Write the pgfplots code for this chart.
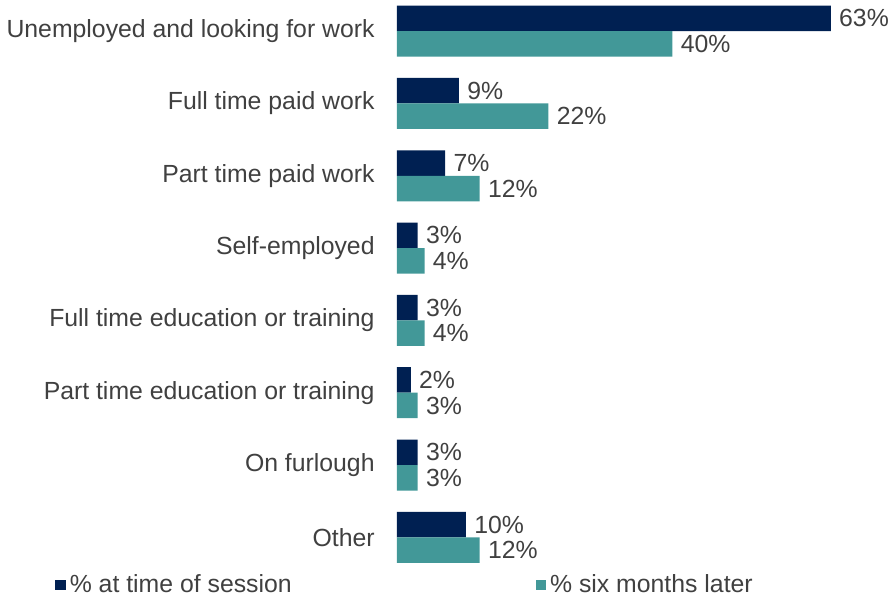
\documentclass[border=0pt]{standalone}
\usepackage{fontspec}
\setmainfont{Liberation Sans}
\usepackage{pgfplots}
\pgfplotsset{compat=1.18}
\definecolor{navy}{HTML}{002052}
\definecolor{teal}{HTML}{429898}
\definecolor{txt}{HTML}{404040}
\begin{document}
\begin{tikzpicture}
\path[use as bounding box] (-198.5pt,-17pt) rectangle (248pt,283.5pt);
\begin{axis}[
    scale only axis,
    width=241pt, height=283.5pt,
    xbar, bar width=12.75pt,
    xmin=0, xmax=70,
    ymin=-0.43, ymax=7.41,
    y dir=reverse,
    axis lines=left,
    axis line style={draw=none},
    xtick=\empty,
    ytick={0,...,7},
    yticklabels={Unemployed and looking for work, Full time paid work, Part time paid work, Self-employed, Full time education or training, Part time education or training, On furlough, Other},
    major tick length=0pt,
    y tick label style={font=\fontsize{12.4}{14}\selectfont, text=txt, inner sep=0pt, xshift=-11pt},
    /pgf/number format/assume math mode=true,
    point meta=x,
    nodes near coords={\pgfmathprintnumber{\pgfplotspointmeta}\%},
    every node near coord/.append style={font=\fontsize{12.4}{14}\selectfont, text=txt, anchor=west, inner sep=0pt, xshift=4pt},
    legend columns=2,
    legend style={draw=none, fill=none, inner sep=0pt, anchor=west,
        at={(axis description cs:-0.7095,-0.0317)},
        font=\fontsize{12.4}{14}\selectfont, text=txt,
        /tikz/every even column/.append style={column sep=120pt}},
    legend image code/.code={\fill[#1] (0pt,-2.6pt) rectangle (5.2pt,2.6pt);},
]
\addplot[fill=navy, draw=none, bar shift=6.375pt] coordinates {
    (63,0) (9,1) (7,2) (3,3) (3,4) (2,5) (3,6) (10,7)
};
\addplot[fill=teal, draw=none, bar shift=-6.375pt] coordinates {
    (40,0) (22,1) (12,2) (4,3) (4,4) (3,5) (3,6) (12,7)
};
\legend{\% at time of session, \% six months later}
\end{axis}
\end{tikzpicture}
\end{document}
